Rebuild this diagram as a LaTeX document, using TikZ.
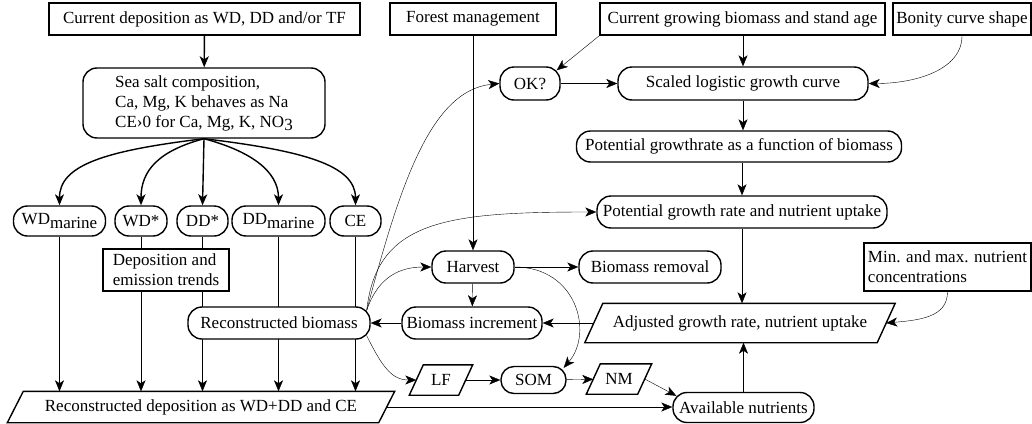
\documentclass[tikz,border=0pt]{standalone}
\usepackage{fontspec}
\setmainfont{Liberation Serif}
\usetikzlibrary{arrows.meta,calc}
\pgfdeclarelayer{bg}
\pgfsetlayers{bg,main}
\newcommand\drawpara[2]{\draw ([xshift=#2]#1.north west) -- ([xshift=#2]#1.north east) -- ([xshift=-#2]#1.south east) -- ([xshift=-#2]#1.south west) -- cycle;}
\begin{document}
\begin{tikzpicture}[x=1pt,y=-1pt,
  font=\rmfamily\fontsize{17}{20}\selectfont,
  line width=1.4pt,
  >={Stealth[length=11pt,width=9pt,inset=3pt]},
  base/.style={fill=white,inner sep=0pt,align=center},
  rect/.style={base,draw},
  pill/.style={base,draw,rounded corners=14pt},
  para/.style={inner sep=0pt,align=center},
]
\useasboundingbox (0,0) rectangle (1032,423);

% nodes
\node[rect,minimum width=311pt,minimum height=32pt] (cd) at (204.5,19) {Current deposition as WD, DD and/or TF};
\node[pill,minimum width=242pt,minimum height=70pt,align=left] (ss) at (204,103) {Sea salt composition,\\Ca, Mg, K behaves as Na\\CE›0 for Ca, Mg, K, NO\raisebox{-0.45ex}{3}};
\node[rect,minimum width=166pt,minimum height=32pt] (fm) at (473,19) {Forest management};
\node[rect,minimum width=285pt,minimum height=32pt] (cg) at (742.5,19) {Current growing biomass and stand age};
\node[rect,minimum width=138pt,minimum height=32pt] (bon) at (962,19) {Bonity curve shape};
\node[pill,minimum width=60pt,minimum height=33pt] (ok) at (530,83.5) {OK?};
\node[pill,minimum width=250pt,minimum height=33pt] (slg) at (743,83.5) {Scaled logistic growth curve};
\node[pill,minimum width=325pt,minimum height=31pt] (pgf) at (739,146.5) {Potential growthrate as a function of biomass};
\node[pill,minimum width=290pt,minimum height=32pt] (pgr) at (742,212) {Potential growth rate and nutrient uptake};
\node[rect,minimum width=167pt,minimum height=48pt,align=left] (mm) at (947.5,267) {Min. and max. nutrient\\concentrations};
\node[pill,minimum width=82pt,minimum height=32pt] (hv) at (473,267) {Harvest};
\node[pill,minimum width=142pt,minimum height=32pt] (br) at (650,267) {Biomass removal};
\node[pill,minimum width=140pt,minimum height=32pt] (bi) at (472,323) {Biomass increment};
\node[pill,minimum width=182pt,minimum height=32pt] (rb) at (279,323) {Reconstructed biomass};
\node[para,minimum width=291pt,minimum height=38pt] (adj) at (740,323) {Adjusted growth rate, nutrient uptake};
\node[pill,minimum width=92pt,minimum height=30pt] (wdm) at (59.5,221) {WD\raisebox{-0.45ex}{marine}};
\node[pill,minimum width=52pt,minimum height=30pt] (wds) at (141,221) {WD*};
\node[pill,minimum width=51pt,minimum height=30pt] (dds) at (202.5,221) {DD*};
\node[pill,minimum width=93pt,minimum height=30pt] (ddm) at (278.5,221) {DD\raisebox{-0.45ex}{marine}};
\node[pill,minimum width=51pt,minimum height=30pt] (ce) at (355.5,221) {CE};
\node[rect,minimum width=126pt,minimum height=42pt,align=left] (dt) at (166,270) {Deposition and\\emission trends};
\node[para,minimum width=370pt,minimum height=30pt] (rd) at (201,407) {Reconstructed deposition as WD+DD and CE};
\node[para,minimum width=48pt,minimum height=29pt] (lf) at (441,380) {LF};
\node[pill,minimum width=65pt,minimum height=27pt,rounded corners=13pt] (som) at (533.5,380) {SOM};
\node[para,minimum width=50pt,minimum height=29pt] (nm) at (619,379) {NM};
\node[pill,minimum width=141pt,minimum height=30pt] (av) at (743.5,407.5) {Available nutrients};

\drawpara{adj}{9pt}
\drawpara{rd}{8pt}
\drawpara{lf}{7pt}
\drawpara{nm}{7pt}

\coordinate (sso) at (ss.south);
\coordinate (rbo) at ($(rb.north east)+(-4,4)$);
\coordinate (rbl) at ($(rb.south east)+(-4,-4)$);

% left part
\draw[->] (cd) -- (ss);
\draw[->] (sso) .. controls +(-100,12) and +(0,-40) .. (wdm.north);
\draw[->] (sso) .. controls +(-45,12) and +(0,-35) .. (wds.north);
\draw[->] (sso) -- (dds.north);
\draw[->] (sso) .. controls +(45,12) and +(0,-35) .. (ddm.north);
\draw[->] (sso) .. controls +(100,12) and +(0,-40) .. (ce.north);
\begin{pgfonlayer}{bg}
\draw[->] (wdm.south) -- (wdm.south |- rd.north);
\draw (wds.south) -- (wds.south |- dt.north);
\draw[->] (wds.south |- dt.south) -- (wds.south |- rd.north);
\draw[->] (dds.south) -- (dds.south |- rd.north);
\draw[->] (ddm.south) -- (ddm.south |- rd.north);
\draw[->] (ce.south) -- (ce.south |- rd.north);
\end{pgfonlayer}

% right part
\draw[->] (fm) -- (hv);
\draw[->] (cg.south west) -- ($(ok.north east)+(-4,4)$);
\draw[->] (cg.south -| slg.north) -- (slg.north);
\draw[->] (ok) -- (slg);
\draw[->] (bon.south) .. controls +(0,35) and +(45,0) .. (slg.east);
\draw[->] (slg.south) -- (slg.south |- pgf.north);
\draw[->] (pgr.north |- pgf.south) -- (pgr.north);
\draw[->] (pgr.south) -- (pgr.south |- adj.north);
\draw[->] (av.north) -- (av.north |- adj.south);
\draw[->] (mm.south) .. controls +(0,25) and +(35,-3) .. (adj.east);
\draw[->] (adj) -- (bi);
\draw[->] (bi) -- (rb);
\draw[->] (hv) -- (bi);
\draw[->] (hv) -- (br);
\draw[->] (hv.east) .. controls +(62,0) and +(30,-35) .. ($(som.north east)+(-3,2)$);
\draw[->] (rbo) .. controls +(32,-120) and +(-70,7) .. (ok.west);
\draw[->] (rbo) .. controls +(10,-90) and +(-150,0) .. (pgr.west);
\draw[->] (rbo) .. controls +(12,-35) and +(-30,0) .. (hv.west);
\draw[->] (rbl) .. controls +(15,30) and +(-25,0) .. (lf.west);
\draw[->] (lf) -- (som);
\draw[->] (som) -- (nm);
\draw[->] (nm.east) -- ($(av.north west)+(4,4)$);
\draw[->] (rd.east) -- (rd.east -| av.west);
\end{tikzpicture}
\end{document}
